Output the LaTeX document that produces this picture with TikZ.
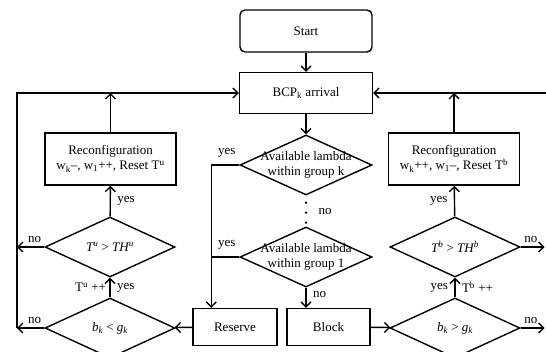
\documentclass[tikz,border=0pt]{standalone}
\usepackage{fontspec}
\setmainfont{Liberation Serif}
\usetikzlibrary{arrows.meta, positioning, shapes.geometric}

\begin{document}
\begin{tikzpicture}[
    x=1pt, y=-1pt, line width=1.4pt,
    >={Straight Barb[length=5pt, width=10pt]},
    font=\fontsize{13}{15}\selectfont,
    box/.style={draw, minimum width=84pt, minimum height=37pt, inner sep=2pt},
    wide/.style={box, minimum width=131pt, minimum height=52pt, align=center},
    decision/.style={draw, diamond, minimum width=130pt, minimum height=60pt, inner sep=0pt},
    txt/.style={align=center, inner sep=0pt},
]
    \clip (0,0) rectangle (546,351);

    % main column
    \node[box, rounded corners=5pt, minimum width=132pt, minimum height=42pt] (start) at (306,31) {Start};
    \node[box, minimum width=133pt, minimum height=41pt] (bcp) at (306,93) {BCP\textsubscript{k} arrival};
    \node[decision, minimum width=132pt, label={[txt]center:{Available lambda\\within group k}}] (d1) at (306,165) {};
    \node[decision, minimum width=132pt, label={[txt]center:{Available lambda\\within group 1}}] (d2) at (306,257) {};
    \node[box] (reserve) at (235,327) {Reserve};
    \node[box, minimum width=83pt] (block) at (328.5,327) {Block};

    % left branch
    \node[decision, label={[txt]center:{\textit{T\textsuperscript{u}} > \textit{TH\textsuperscript{u}}}}] (tu) at (110,247) {};
    \node[decision, label={[txt]center:{\textit{b\textsubscript{k}} < \textit{g\textsubscript{k}}}}] (bu) at (110,328) {};
    \node[wide] (ru) at (110.5,159) {Reconfiguration\\w\textsubscript{k}--, w\textsubscript{1}++, Reset T\textsuperscript{u}};

    % right branch
    \node[decision, label={[txt]center:{\textit{T\textsuperscript{b}} > \textit{TH\textsuperscript{b}}}}] (tb) at (455,247) {};
    \node[decision, label={[txt]center:{\textit{b\textsubscript{k}} > \textit{g\textsubscript{k}}}}] (bb) at (455,328) {};
    \node[wide] (rb) at (454,159) {Reconfiguration\\w\textsubscript{k}++, w\textsubscript{1}--, Reset T\textsuperscript{b}};

    \coordinate (lt) at (17,93);
    \coordinate (rt) at (546,93);

    \draw[->] (start) -- (bcp);
    \draw[->] (bcp) -- (d1);
    \draw (d1.west) -- node[above=4pt, pos=0.45] {yes} ++(-28,0) coordinate (yk);
    \draw[->] (yk) -- (yk |- reserve.north);
    \draw (d2.west) -- node[above=4pt, pos=0.45] {yes} (d2.west -| yk);
    \draw[line cap=round, line width=2.6pt, dash pattern=on 0pt off 10pt, dash phase=3pt]
        (d1.south) -- node[right=8pt] {no} (d2.north);
    \draw[->] (d2.south) -- node[right=3pt, pos=0.35] {no} (d2.south |- block.north);
    \draw[->] (reserve) -- (bu);
    \draw[->] (block) -- (bb);

    \draw[->] (bu) -- node[left] {T\textsuperscript{u} ++} node[right=3pt] {yes} (tu);
    \draw[->] (tu) -- node[right=3pt] {yes} (ru);
    \draw[->] (tu.west) -- node[above, pos=0.35] {no} (tu.west -| lt);
    \draw[->] (bu.west) -- node[above, pos=0.35] {no} (bu.west -| lt);
    \draw[->] (bu.west -| lt) -- (lt) -- (bcp);
    \draw[->] (ru) -- (ru |- lt);

    \draw[->] (rt) -- (bcp);
    \draw[->] (rb) -- (rb |- rt);
    \draw[->] (bb) -- node[left=3pt] {yes} node[right=3pt] {T\textsuperscript{b} ++} (tb);
    \draw[->] (tb) -- node[left=3pt] {yes} (rb);
    \draw[->] (tb.east) -- node[above, pos=0.42] {no} ++(24,0);
    \draw[->] (bb.east) -- node[above, pos=0.42] {no} ++(24,0);
\end{tikzpicture}
\end{document}
